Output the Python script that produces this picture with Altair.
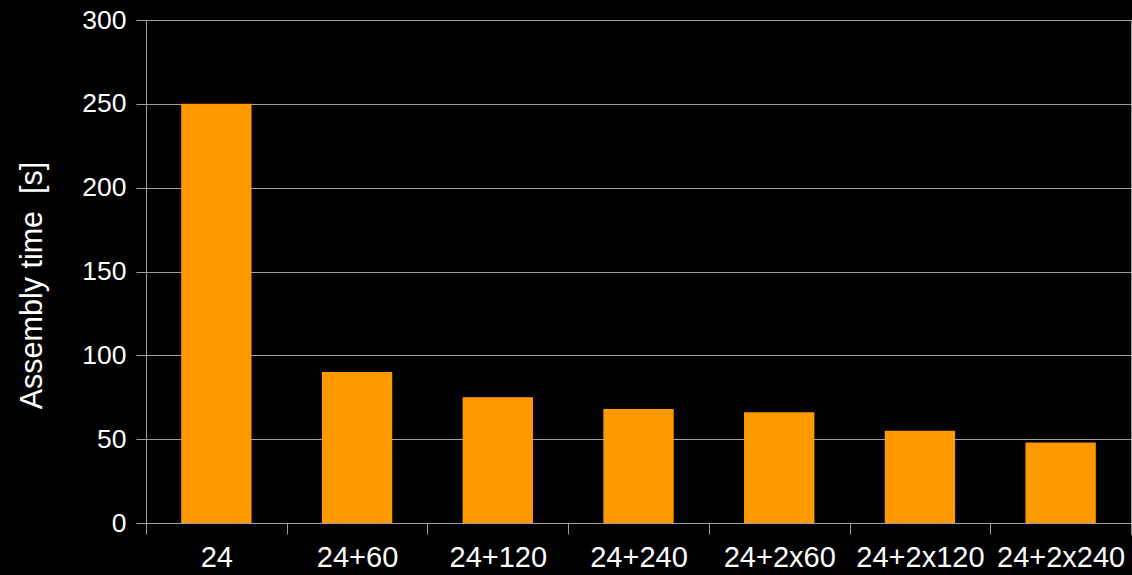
import altair as alt
import pandas as pd

categories = ["24", "24+60", "24+120", "24+240", "24+2x60", "24+2x120", "24+2x240"]
times = [250, 90, 75, 68, 66, 55, 48]

df = pd.DataFrame({"config": categories, "time": times})

grid = "#A0A0A0"

chart = alt.Chart(df).mark_bar(color="#FF9900", width=alt.RelativeBandSize(0.5)).encode(
    x=alt.X("config:N", sort=categories, title=None,
            scale=alt.Scale(paddingInner=0, paddingOuter=0),
            axis=alt.Axis(labelAngle=0, labelFontSize=29, labelColor="white",
                          labelFont="Liberation Sans", tickBand="extent",
                          tickSize=11, tickColor=grid, domainColor=grid,
                          labelPadding=9, grid=False)),
    y=alt.Y("time:Q", title="Assembly time \u00a0[s]",
            scale=alt.Scale(domain=[0, 300]),
            axis=alt.Axis(values=[0, 50, 100, 150, 200, 250, 300],
                          labelFontSize=26.5, labelColor="white", labelFont="Liberation Sans",
                          tickSize=10, tickColor=grid, domainColor=grid, gridColor=grid,
                          labelPadding=10, titleFontSize=30.5, titleColor="white",
                          titleFont="Liberation Sans", titleFontWeight="normal",
                          titleX=-114, titleY=265, titleAngle=-90,
                          titleAlign="center", titleBaseline="middle")),
).properties(
    width=985, height=503,
    background="black",
    autosize=alt.AutoSizeParams(type="none"),
    padding={"left": 146, "top": 20, "right": 1, "bottom": 52},
).configure_view(stroke=grid, strokeWidth=1)

chart.save("out.html", embed_options={"renderer": "svg", "actions": False})
